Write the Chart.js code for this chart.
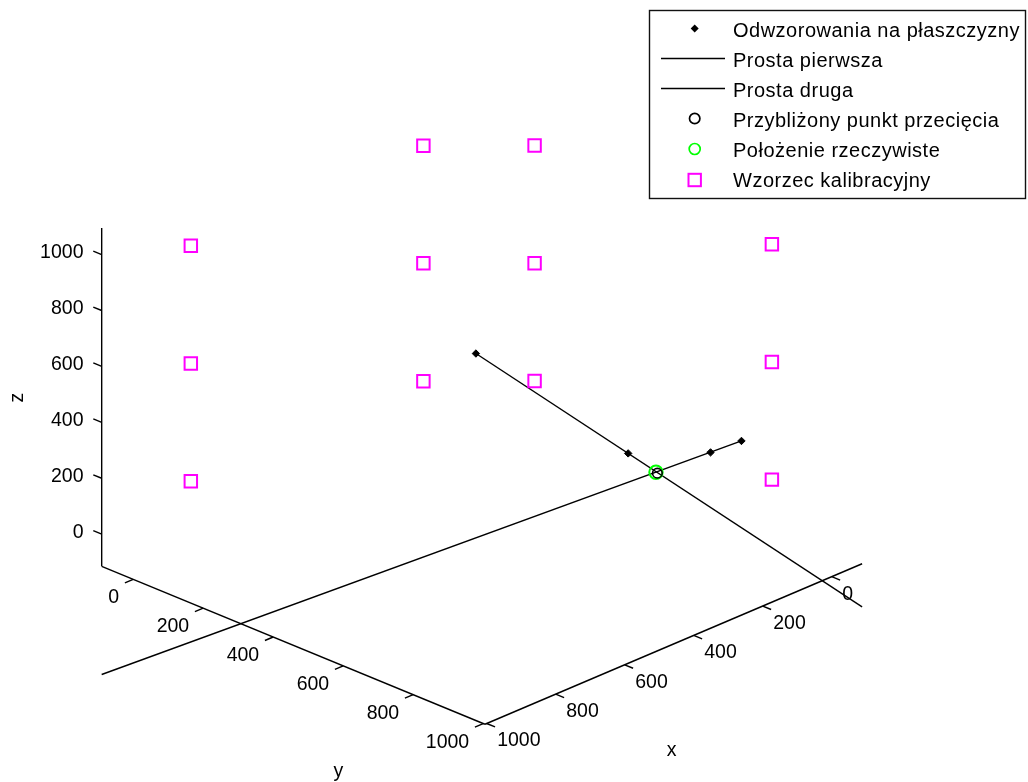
<!DOCTYPE html>
<html>
<head>
<meta charset="utf-8">
<title>Przecięcie prostych</title>
<script src="https://cdn.jsdelivr.net/npm/chart.js@4.4.1/dist/chart.umd.min.js"></script>
<style>
  html, body { margin: 0; padding: 0; background: #ffffff; }
  #wrap { position: relative; width: 1028px; height: 782px; }
</style>
</head>
<body>
<div id="wrap"><canvas id="c" width="1028" height="782"></canvas></div>
<script>
// ---- axis limits, ticks and 3-D view ----
const xLim = [-88, 1005];
const yLim = [-90, 1005];
const zLim = [-115, 1095];
const tickValues = [0, 200, 400, 600, 800, 1000];
const viewAz = 134.54;          // degrees
const viewEl = 24.75;           // degrees
const boxAspect = [1, 1, 0.6926];
// visible window of the projected (view) plane
const hWindow = [-0.8962, 1.0156];
const vWindow = [-0.7179, 0.7361];

// ---- data (x, y, z) ----
// points mapped onto the planes
const projX = [452, 239, 121, 76];
const projY = [434, 659, 778, 822];
const projZ = [626, 273, 276, 316];
// first line (start, end)
const line1X = [452, -88];
const line1Y = [434, 1005];
const line1Z = [626, -269];
// second line (start, end)
const line2X = [1005, 76];
const line2Y = [-90, 822];
const line2Z = [-502, 316];
// approximate intersection and real position
const approxX = [199], approxY = [703], approxZ = [204];
const realX = [200], realY = [700], realZ = [206];
// calibration pattern: two walls (y = 0 and x = 0)
const calibX = [838, 838, 838, 164, 164, 164, 0, 0, 0, 0, 0, 0];
const calibY = [0, 0, 0, 0, 0, 0, 156, 156, 156, 834, 834, 834];
const calibZ = [990, 569, 148, 994, 574, 152, 989, 568, 147, 986, 565, 144];

const seriesNames = [
  'Odwzorowania na płaszczyzny',
  'Prosta pierwsza',
  'Prosta druga',
  'Przybliżony punkt przecięcia',
  'Położenie rzeczywiste',
  'Wzorzec kalibracyjny'
];
const axisTitles = ['x', 'y', 'z'];

const FONT = '"Liberation Sans", Arial, Helvetica, sans-serif';
const MAGENTA = '#ff00ff';
const GREEN = '#00ff00';

// orthographic projection of a data point onto the view plane
function project(x, y, z) {
  const az = viewAz * Math.PI / 180, el = viewEl * Math.PI / 180;
  const ux = (x - (xLim[0] + xLim[1]) / 2) / (xLim[1] - xLim[0]) * boxAspect[0];
  const uy = (y - (yLim[0] + yLim[1]) / 2) / (yLim[1] - yLim[0]) * boxAspect[1];
  const uz = (z - (zLim[0] + zLim[1]) / 2) / (zLim[1] - zLim[0]) * boxAspect[2];
  const h = ux * Math.cos(az) + uy * Math.sin(az);
  const v = (-ux * Math.sin(az) + uy * Math.cos(az)) * Math.sin(el) + uz * Math.cos(el);
  return { x: h, y: v };
}
const toPoints = (xs, ys, zs) => xs.map((x, i) => project(x, ys[i], zs[i]));

// axis lines, ticks and labels of the 3-D box
const axes3d = {
  id: 'axes3d',
  beforeDatasetsDraw(chart) {
    const { ctx, scales } = chart;
    const px = (x, y, z) => {
      const p = project(x, y, z);
      return [scales.x.getPixelForValue(p.x), scales.y.getPixelForValue(p.y)];
    };
    const seg = (a, b) => {
      ctx.beginPath(); ctx.moveTo(a[0], a[1]); ctx.lineTo(b[0], b[1]); ctx.stroke();
    };
    const tickLen = 24;
    ctx.save();
    ctx.strokeStyle = '#000';
    ctx.lineWidth = 1.4;
    ctx.lineCap = 'butt';
    // x axis (front right edge), y axis (front left edge), z axis (left vertical)
    seg(px(xLim[0], yLim[1], zLim[0]), px(xLim[1], yLim[1], zLim[0]));
    seg(px(xLim[1], yLim[0], zLim[0]), px(xLim[1], yLim[1], zLim[0]));
    seg(px(xLim[1], yLim[0], zLim[0]), px(xLim[1], yLim[0], zLim[1]));

    ctx.fillStyle = '#000';
    ctx.font = '19.5px ' + FONT;
    ctx.textBaseline = 'middle';
    tickValues.forEach(t => {
      // x ticks
      let a = px(t, yLim[1], zLim[0]);
      seg(a, px(t, yLim[1] + tickLen, zLim[0]));
      ctx.textAlign = 'left';
      ctx.fillText(String(t), a[0] + 10.5, a[1] + 17.5);
      // y ticks
      a = px(xLim[1], t, zLim[0]);
      seg(a, px(xLim[1] + tickLen, t, zLim[0]));
      ctx.textAlign = 'right';
      ctx.fillText(String(t), a[0] - 14, a[1] + 18.6);
      // z ticks
      a = px(xLim[1], yLim[0], t);
      seg(a, px(xLim[1], yLim[0] - tickLen, t));
      ctx.textAlign = 'right';
      ctx.fillText(String(t), a[0] - 18.2, a[1] - 1.5);
    });

    // axis titles
    ctx.textAlign = 'center';
    ctx.textBaseline = 'alphabetic';
    ctx.fillText(axisTitles[0], 671.7, 756);
    ctx.fillText(axisTitles[1], 338.3, 777);
    ctx.save();
    ctx.translate(22.7, 397.5);
    ctx.rotate(-Math.PI / 2);
    ctx.fillText(axisTitles[2], 0, 0);
    ctx.restore();
    ctx.restore();
  }
};

// boxed legend in the upper right corner
const boxLegend = {
  id: 'boxLegend',
  afterDraw(chart) {
    const ctx = chart.ctx;
    const left = 649.5, top = 10.5, w = 376, h = 188;
    const rowY = [30, 60, 90, 120, 150, 180];
    const markX = 694.7, textX = 733;
    ctx.save();
    ctx.fillStyle = '#fff';
    ctx.fillRect(left, top, w, h);
    ctx.strokeStyle = '#111';
    ctx.lineWidth = 1.4;
    ctx.strokeRect(left, top, w, h);

    // diamond
    ctx.fillStyle = '#000';
    ctx.beginPath();
    const dy = rowY[0] - 1.5, r = 4;
    ctx.moveTo(markX - r, dy); ctx.lineTo(markX, dy - r);
    ctx.lineTo(markX + r, dy); ctx.lineTo(markX, dy + r); ctx.closePath();
    ctx.fill();
    // line samples
    ctx.strokeStyle = '#000';
    ctx.lineWidth = 1.4;
    [rowY[1], rowY[2]].forEach(y => {
      ctx.beginPath(); ctx.moveTo(661, y - 1.5); ctx.lineTo(725, y - 1.5); ctx.stroke();
    });
    // circles
    ctx.lineWidth = 1.7;
    ctx.strokeStyle = '#000';
    ctx.beginPath(); ctx.arc(markX, rowY[3] - 1.5, 5.2, 0, Math.PI * 2); ctx.stroke();
    ctx.strokeStyle = GREEN;
    ctx.beginPath(); ctx.arc(markX, rowY[4] - 1, 5.5, 0, Math.PI * 2); ctx.stroke();
    // square
    ctx.strokeStyle = MAGENTA;
    ctx.lineWidth = 2;
    ctx.strokeRect(markX - 6.2, rowY[5] - 6.2, 12.4, 12.4);

    // labels
    ctx.fillStyle = '#000';
    ctx.font = '20px ' + FONT;
    if ('letterSpacing' in ctx) ctx.letterSpacing = '0.5px';
    ctx.textAlign = 'left';
    ctx.textBaseline = 'alphabetic';
    seriesNames.forEach((s, i) => ctx.fillText(s, textX, rowY[i] + 6.8));
    ctx.restore();
  }
};

new Chart(document.getElementById('c'), {
  type: 'scatter',
  data: {
    datasets: [
      {
        label: seriesNames[0],
        data: toPoints(projX, projY, projZ),
        pointStyle: 'rectRot', pointRadius: 3.7,
        backgroundColor: '#000', borderColor: '#000', borderWidth: 1,
        showLine: false, order: 0
      },
      {
        label: seriesNames[1],
        data: toPoints(line1X, line1Y, line1Z),
        showLine: true, pointRadius: 0,
        borderColor: '#000', borderWidth: 1.4, order: 3
      },
      {
        label: seriesNames[2],
        data: toPoints(line2X, line2Y, line2Z),
        showLine: true, pointRadius: 0,
        borderColor: '#000', borderWidth: 1.4, order: 3
      },
      {
        label: seriesNames[3],
        data: toPoints(approxX, approxY, approxZ),
        pointStyle: 'circle', pointRadius: 4.8,
        backgroundColor: 'rgba(0,0,0,0)', borderColor: '#000', borderWidth: 1.6,
        showLine: false, order: 1
      },
      {
        label: seriesNames[4],
        data: toPoints(realX, realY, realZ),
        pointStyle: 'circle', pointRadius: 6.7,
        backgroundColor: 'rgba(0,0,0,0)', borderColor: GREEN, borderWidth: 2,
        showLine: false, order: 2
      },
      {
        label: seriesNames[5],
        data: toPoints(calibX, calibY, calibZ),
        pointStyle: 'rect', pointRadius: 8.8,
        backgroundColor: 'rgba(0,0,0,0)', borderColor: MAGENTA, borderWidth: 2,
        showLine: false, order: 2
      }
    ]
  },
  options: {
    responsive: false,
    animation: false,
    devicePixelRatio: 1,
    layout: { padding: 0, autoPadding: false },
    events: [],
    scales: {
      x: { type: 'linear', bounds: 'data', min: hWindow[0], max: hWindow[1], display: false },
      y: { type: 'linear', bounds: 'data', min: vWindow[0], max: vWindow[1], display: false }
    },
    plugins: {
      legend: { display: false },
      tooltip: { enabled: false },
      title: { display: false }
    }
  },
  plugins: [axes3d, boxLegend]
});
</script>
</body>
</html>
